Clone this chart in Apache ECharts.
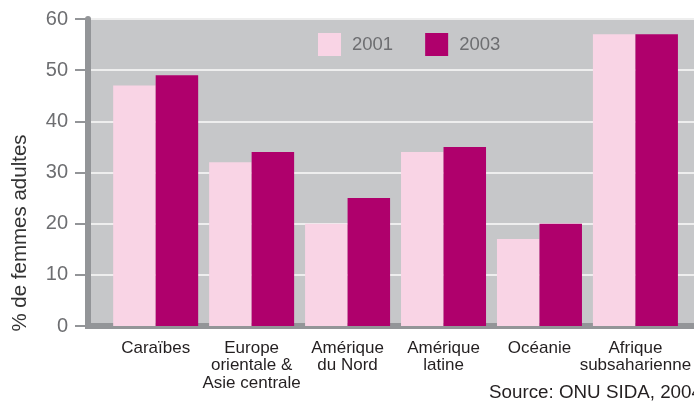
<!DOCTYPE html>
<html>
<head>
<meta charset="utf-8">
<script src="https://cdn.jsdelivr.net/npm/echarts@6/dist/echarts.min.js"></script>
<style>
  html, body { margin: 0; padding: 0; background: #ffffff; }
  #chart { width: 694px; height: 401px; }
</style>
</head>
<body>
<div id="chart"></div>
<script>
const categories = ['Caraïbes', 'Europe\norientale &\nAsie centrale', 'Amérique\ndu Nord', 'Amérique\nlatine', 'Océanie', 'Afrique\nsubsaharienne'];
const values2001 = [47, 32, 20, 34, 17, 57];
const values2003 = [49, 34, 25, 35, 20, 57];
const seriesNames = ['2001', '2003'];
const yTitle = '% de femmes adultes';
const sourceText = 'Source: ONU SIDA, 2004';

const FONT = "'Liberation Sans', Arial, sans-serif";
const chart = echarts.init(document.getElementById('chart'), null, { renderer: 'canvas' });

const option = {
  animation: false,
  backgroundColor: '#ffffff',
  textStyle: { fontFamily: FONT },
  grid: [
    { left: 107.7, right: 8.3, top: 19, bottom: 75 },
    { left: 88, right: 0, top: 19, bottom: 75, show: true, backgroundColor: '#c6c7c9', borderWidth: 0 }
  ],
  legend: {
    data: seriesNames,
    left: 318, top: 33, padding: 0,
    itemWidth: 23, itemHeight: 23, itemGap: 32,
    icon: 'rect',
    textStyle: { fontSize: 18.5, color: '#6d6e71', fontFamily: FONT, padding: [0, 0, 0, 6] }
  },
  xAxis: [
    {
      type: 'category', gridIndex: 0, data: categories,
      axisLine: { show: false }, axisTick: { show: false },
      axisLabel: { interval: 0, margin: 14, fontSize: 17, lineHeight: 17.2, color: '#231f20', fontFamily: FONT }
    },
    {
      type: 'value', gridIndex: 1, min: 0, max: 1, offset: 3,
      axisLine: { show: true, lineStyle: { color: '#939598', width: 6, cap: 'square' } },
      axisTick: { show: false }, axisLabel: { show: false }, splitLine: { show: false }
    }
  ],
  yAxis: [
    { type: 'value', gridIndex: 0, min: 0, max: 60, interval: 10, show: false },
    {
      type: 'value', gridIndex: 1, min: 0, max: 60, interval: 10,
      axisLine: { show: true, lineStyle: { color: '#939598', width: 6 } },
      axisTick: { show: true, length: 13, lineStyle: { color: '#939598', width: 2 } },
      axisLabel: { margin: 20, fontSize: 20, color: '#6d6e71', fontFamily: FONT },
      splitLine: { show: true, lineStyle: { color: '#eeeeee', width: 2 } }
    }
  ],
  series: [
    { name: seriesNames[0], type: 'bar', xAxisIndex: 0, yAxisIndex: 0, data: values2001,
      barWidth: 42.5, barGap: 0, itemStyle: { color: '#f9d4e5' } },
    { name: seriesNames[1], type: 'bar', xAxisIndex: 0, yAxisIndex: 0, data: values2003,
      barWidth: 42.5, barGap: 0, itemStyle: { color: '#af006c' } }
  ],
  graphic: [
    { type: 'text', x: 20, y: 233, rotation: Math.PI / 2,
      style: { text: yTitle, fontSize: 20.5, fill: '#333333', fontFamily: FONT, align: 'center', verticalAlign: 'middle' } },
    { type: 'text', x: 489, y: 392.5,
      style: { text: sourceText, fontSize: 18.8, fill: '#231f20', fontFamily: FONT, align: 'left', verticalAlign: 'middle' } }
  ]
};
chart.setOption(option);
</script>
</body>
</html>
